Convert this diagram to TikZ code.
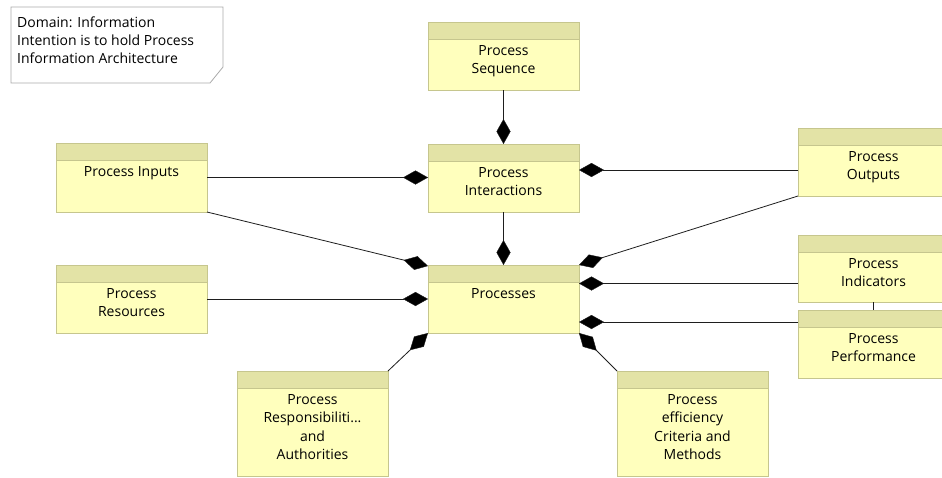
\documentclass[tikz,border=0pt]{standalone}
\usepackage{fontspec}
\setmainfont{Open Sans}
\usetikzlibrary{arrows.meta,calc}

\definecolor{hdrfill}{RGB}{227,227,166}
\definecolor{bodyfill}{RGB}{255,255,189}
\definecolor{boxline}{RGB}{198,198,142}
\definecolor{wire}{RGB}{30,30,30}
\definecolor{notegray}{RGB}{170,170,170}

\tikzset{
  classbox/.style={draw=boxline, fill=bodyfill, line width=0.9pt, anchor=north west,
    inner sep=0pt, outer sep=0pt, minimum width=151pt},
  classname/.style={anchor=north, align=center, inner sep=0pt, text=black,
    font=\fontsize{14}{18.5}\selectfont},
  comp/.style={draw=wire, line width=0.8pt,
    -{Diamond[length=25pt,width=14pt,fill=black,line width=0.4pt]}},
  link/.style={draw=wire, line width=0.8pt},
}

% name, x, y (top-left), height, label
\newcommand\classblock[5]{%
  \node[classbox, minimum height=#4pt] (#1) at (#2,#3) {};
  \fill[hdrfill] (#1.north west) rectangle ($(#1.north east)+(0,17)$);
  \draw[boxline, line width=0.9pt] (#1.north west) rectangle (#1.south east);
  \draw[boxline, line width=0.9pt] ($(#1.north west)+(0,17)$) -- ($(#1.north east)+(0,17)$);
  \node[classname] (#1-name) at ($(#1.north)+(0,23)$) {#5};
}

\begin{document}
\begin{tikzpicture}[x=1pt, y=-1pt]
  \useasboundingbox[fill=white] (0,0) rectangle (942,477);

  % note with folded corner
  \node[anchor=north west, minimum width=212pt, minimum height=76pt, inner sep=0pt, outer sep=0pt] (note) at (11,7) {};
  \draw[notegray, line width=0.8pt, fill=white]
    (note.north west) -- (note.north east) -- ($(note.south east)+(0,-16)$)
    -- ($(note.south east)+(-13,0)$) -- (note.south west) -- cycle;
  \node[anchor=north west, align=left, inner sep=0pt, text=black,
    font=\fontsize{14}{18}\selectfont] (note-text) at (17,17)
    {Domain: Information\\Intention is to hold Process\\Information Architecture};

  % classes
  \classblock{seq}{428}{22}{68}{Process\\Sequence}
  \classblock{inter}{428}{144}{68}{Process\\Interactions}
  \classblock{proc}{428}{265}{68}{Processes}
  \classblock{inputs}{56}{143}{69}{Process Inputs}
  \classblock{res}{56}{265}{68}{Process\\Resources}
  \classblock{outputs}{798}{128}{68}{Process\\Outputs}
  \classblock{ind}{798}{235}{67}{Process\\Indicators}
  \classblock{perf}{798}{310}{68}{Process\\Performance}
  \classblock{resp}{237}{371}{105}{Process\\Responsibiliti...\\and\\Authorities}
  \classblock{eff}{617}{371}{105}{Process\\efficiency\\Criteria and\\Methods}

  % compositions
  \draw[comp] (seq.south) -- (inter.north);
  \draw[comp] (inputs.east) -- (inputs.east -| inter.west);
  \draw[comp] ($(outputs.west)+(0,8)$) -- ($(outputs.west -| inter.east)+(0,8)$);
  \draw[comp] (inter.south) -- (proc.north);
  \draw[comp] (inputs.south east) -- ($(proc.north west)+(0,1)$);
  \draw[comp] (outputs.south west) -- (proc.north east);
  \draw[comp] (res.east) -- (res.east -| proc.west);
  \draw[comp] ($(ind.west)+(0,15)$) -- ($(ind.west -| proc.east)+(0,15)$);
  \draw[comp] ($(perf.west)+(0,-22)$) -- ($(perf.west -| proc.east)+(0,-22)$);
  \draw[comp] (resp.north east) -- (proc.south west);
  \draw[comp] (eff.north west) -- (proc.south east);
  \draw[link] (ind.south) -- (perf.north);
\end{tikzpicture}
\end{document}
